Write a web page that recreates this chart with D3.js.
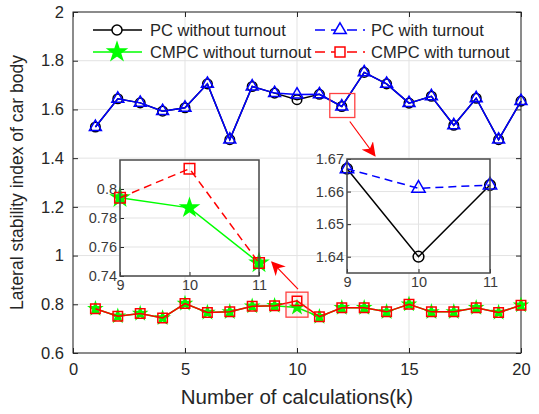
<!DOCTYPE html>
<html>
<head>
<meta charset="utf-8">
<script src="https://cdn.jsdelivr.net/npm/d3@7"></script>
<style>
  html, body { margin: 0; padding: 0; background: #fff; }
  svg { display: block; font-family: "Liberation Sans", Arial, sans-serif; }
</style>
</head>
<body>
<svg id="chart" width="539" height="414"></svg>
<script>
// Number of calculations
const steps = [1, 2, 3, 4, 5, 6, 7, 8, 9, 10, 11, 12, 13, 14, 15, 16, 17, 18, 19, 20];
// Lateral stability index per controller
const pcWithout   = [1.528, 1.644, 1.627, 1.593, 1.607, 1.705, 1.476, 1.694, 1.667, 1.640, 1.662, 1.612, 1.752, 1.705, 1.626, 1.654, 1.535, 1.646, 1.476, 1.634];
const pcWith      = [1.528, 1.644, 1.627, 1.593, 1.607, 1.705, 1.476, 1.694, 1.667, 1.661, 1.662, 1.612, 1.752, 1.705, 1.626, 1.654, 1.535, 1.646, 1.476, 1.634];
const cmpcWithout = [0.782, 0.751, 0.762, 0.744, 0.803, 0.766, 0.769, 0.792, 0.794, 0.787, 0.749, 0.786, 0.786, 0.769, 0.800, 0.769, 0.769, 0.786, 0.766, 0.796];
const cmpcWith    = [0.782, 0.751, 0.762, 0.744, 0.803, 0.766, 0.769, 0.792, 0.794, 0.814, 0.749, 0.786, 0.786, 0.769, 0.800, 0.769, 0.769, 0.786, 0.766, 0.796];

const xTicks = [0, 5, 10, 15, 20];
const yTicks = [0.6, 0.8, 1, 1.2, 1.4, 1.6, 1.8, 2];
const zoomSteps = [9, 10, 11];
const zoomLowTicks = [0.74, 0.76, 0.78, 0.8];
const zoomHighTicks = [1.64, 1.65, 1.66, 1.67];

const legendLabels = ["PC without turnout", "PC with turnout", "CMPC without turnout", "CMPC with turnout"];

const axisColor = "#262626";
const gridColor = "#e3e3e3";

const svg = d3.select("#chart");
const plot = { left: 73, right: 521, top: 12, bottom: 353 };

const x = d3.scaleLinear().domain([0, 20]).range([plot.left, plot.right]);
const y = d3.scaleLinear().domain([0.6, 2]).range([plot.bottom, plot.top]);

const series = [
  { name: legendLabels[0], values: pcWithout,   color: "#000000", symbol: d3.symbolCircle,   size: 72, fill: "none",    dash: null },
  { name: legendLabels[1], values: pcWith,      color: "#0000ff", symbol: d3.symbolTriangle, size: 62, fill: "none",    dash: "8,5" },
  { name: legendLabels[2], values: cmpcWithout, color: "#00ff00", symbol: d3.symbolStar,     size: 45, fill: "#00ff00", dash: null },
  { name: legendLabels[3], values: cmpcWith,    color: "#ff0000", symbol: d3.symbolSquare,   size: 90, fill: "none",    dash: "8,5" }
];

// ---------- main axes ----------
const g = svg.append("g");

// grid
g.append("g").selectAll("line").data(xTicks).join("line")
  .attr("x1", d => x(d)).attr("x2", d => x(d))
  .attr("y1", plot.top).attr("y2", plot.bottom)
  .attr("stroke", gridColor).attr("stroke-width", 1);
g.append("g").selectAll("line").data(yTicks).join("line")
  .attr("x1", plot.left).attr("x2", plot.right)
  .attr("y1", d => y(d)).attr("y2", d => y(d))
  .attr("stroke", gridColor).attr("stroke-width", 1);

function styleAxis(sel, fontSize) {
  sel.select(".domain").remove();
  sel.selectAll(".tick line").attr("stroke", axisColor);
  sel.selectAll(".tick text").attr("fill", axisColor).attr("font-size", fontSize);
}

// bottom / left axes with inward ticks
g.append("g").attr("transform", `translate(0,${plot.bottom})`)
  .call(d3.axisBottom(x).tickValues(xTicks).tickSize(-5).tickPadding(10).tickFormat(d3.format("d")))
  .call(s => styleAxis(s, 16.5));
g.append("g").attr("transform", `translate(${plot.left},0)`)
  .call(d3.axisLeft(y).tickValues(yTicks).tickSize(-5).tickPadding(9).tickFormat(d => d3.format("")(+d.toFixed(1))))
  .call(s => styleAxis(s, 16.5));
// mirrored ticks on top / right
g.append("g").attr("transform", `translate(0,${plot.top})`)
  .call(d3.axisTop(x).tickValues(xTicks).tickSize(-5).tickFormat(""))
  .call(s => styleAxis(s, 16));
g.append("g").attr("transform", `translate(${plot.right},0)`)
  .call(d3.axisRight(y).tickValues(yTicks).tickSize(-5).tickFormat(""))
  .call(s => styleAxis(s, 16));

g.append("rect")
  .attr("x", plot.left).attr("y", plot.top)
  .attr("width", plot.right - plot.left).attr("height", plot.bottom - plot.top)
  .attr("fill", "none").attr("stroke", axisColor).attr("stroke-width", 1);

// axis titles
svg.append("text")
  .attr("x", (plot.left + plot.right) / 2).attr("y", 404)
  .attr("text-anchor", "middle").attr("font-size", 20.5).attr("fill", axisColor)
  .text("Number of calculations(k)");
svg.append("text")
  .attr("transform", `translate(23,${(plot.top + plot.bottom) / 2}) rotate(-90)`)
  .attr("text-anchor", "middle").attr("font-size", 17.5).attr("fill", axisColor)
  .text("Lateral stability index of car body");

// ---------- series ----------
function drawSeries(parent, s, vals, xs, ys, xsData, dashed, markerScale) {
  const line = d3.line().x((d, i) => xs(xsData[i])).y(d => ys(d));
  parent.append("path")
    .attr("d", line(vals))
    .attr("fill", "none").attr("stroke", s.color).attr("stroke-width", 1.5)
    .attr("stroke-dasharray", dashed ? s.dash : null);
  const sym = d3.symbol().type(s.symbol).size(s.size * markerScale);
  parent.append("g").selectAll("path").data(vals).join("path")
    .attr("transform", (d, i) => `translate(${xs(xsData[i])},${ys(d)})`)
    .attr("d", sym)
    .attr("fill", s.fill).attr("stroke", s.color).attr("stroke-width", 1.5);
}

const mainG = svg.append("g");
series.forEach(s => drawSeries(mainG, s, s.values, x, y, steps, false, 1));

// ---------- highlight boxes and arrows ----------
const annotColor = "#ff4040";
svg.append("defs").append("marker")
  .attr("id", "arrowHead").attr("viewBox", "0 0 10 10")
  .attr("refX", 9).attr("refY", 5)
  .attr("markerWidth", 14).attr("markerHeight", 14)
  .attr("markerUnits", "userSpaceOnUse")
  .attr("orient", "auto")
  .append("path").attr("d", "M0,0 L10,5 L0,10 L3,5 Z").attr("fill", "#ff0000");

const hiTop = { cx: x(12), cy: y(pcWith[11]) };
const hiLow = { cx: x(10), cy: y((cmpcWith[9] + cmpcWithout[9]) / 2) };

svg.append("rect")
  .attr("x", hiTop.cx - 12).attr("y", hiTop.cy - 13).attr("width", 25).attr("height", 24)
  .attr("fill", "none").attr("stroke", annotColor).attr("stroke-width", 1.3);
svg.append("rect")
  .attr("x", hiLow.cx - 11).attr("y", hiLow.cy - 12).attr("width", 22).attr("height", 25)
  .attr("fill", "rgba(255,0,0,0.05)").attr("stroke", annotColor).attr("stroke-width", 1.3);

svg.append("line")
  .attr("x1", hiTop.cx + 8).attr("y1", hiTop.cy + 15)
  .attr("x2", hiTop.cx + 33).attr("y2", hiTop.cy + 49)
  .attr("stroke", "#ff0000").attr("stroke-width", 1.2)
  .attr("marker-end", "url(#arrowHead)");
svg.append("line")
  .attr("x1", hiLow.cx + 1).attr("y1", hiLow.cy - 15)
  .attr("x2", hiLow.cx - 25).attr("y2", hiLow.cy - 42)
  .attr("stroke", "#ff0000").attr("stroke-width", 1.2)
  .attr("marker-end", "url(#arrowHead)");

// ---------- zoomed insets ----------
function inset(box, yDomain, yTickVals, fmt, list) {
  const ig = svg.append("g");
  const xs = d3.scaleLinear().domain([9, 11]).range([box.left, box.right]);
  const ys = d3.scaleLinear().domain(yDomain).range([box.bottom, box.top]);
  ig.append("rect")
    .attr("x", box.left).attr("y", box.top)
    .attr("width", box.right - box.left).attr("height", box.bottom - box.top)
    .attr("fill", "#fff");
  ig.append("g").selectAll("line").data(zoomSteps).join("line")
    .attr("x1", d => xs(d)).attr("x2", d => xs(d))
    .attr("y1", box.top).attr("y2", box.bottom)
    .attr("stroke", gridColor);
  ig.append("g").selectAll("line").data(yTickVals).join("line")
    .attr("x1", box.left).attr("x2", box.right)
    .attr("y1", d => ys(d)).attr("y2", d => ys(d))
    .attr("stroke", gridColor);
  ig.append("g").attr("transform", `translate(0,${box.bottom})`)
    .call(d3.axisBottom(xs).tickValues(zoomSteps).tickSize(-4).tickPadding(4).tickFormat(d3.format("d")))
    .call(s => { styleAxis(s, 14.5); s.selectAll(".tick text").attr("fill", "#3a3a3a"); });
  ig.append("g").attr("transform", `translate(${box.left},0)`)
    .call(d3.axisLeft(ys).tickValues(yTickVals).tickSize(-4).tickPadding(3).tickFormat(fmt))
    .call(s => { styleAxis(s, 14.5); s.selectAll(".tick text").attr("fill", "#3a3a3a"); });
  list.forEach(s => drawSeries(ig, s, s.values.slice(8, 11), xs, ys, zoomSteps, true, s.symbol === d3.symbolStar ? 2 : 1.25));
  ig.append("rect")
    .attr("x", box.left).attr("y", box.top)
    .attr("width", box.right - box.left).attr("height", box.bottom - box.top)
    .attr("fill", "none").attr("stroke", "#4a4a4a").attr("stroke-width", 1.5);
}

inset({ left: 120, right: 259, top: 160, bottom: 276 }, [0.74, 0.82], zoomLowTicks,
      d => d3.format("")(+d.toFixed(2)), [series[2], series[3]]);
inset({ left: 347, right: 490, top: 159, bottom: 273 }, [1.635, 1.67], zoomHighTicks,
      d => d.toFixed(2), [series[0], series[1]]);

// ---------- legend (no frame) ----------
const legendPos = [
  { x0: 93, x1: 142, mx: 117, y: 30, tx: 150 },
  { x0: 315, x1: 365, mx: 340, y: 30, tx: 371 },
  { x0: 93, x1: 142, mx: 117, y: 52, tx: 150 },
  { x0: 315, x1: 365, mx: 340, y: 52, tx: 371 }
];
const lg = svg.append("g");
series.forEach((s, i) => {
  const p = legendPos[i];
  lg.append("line")
    .attr("x1", p.x0).attr("x2", p.x1).attr("y1", p.y).attr("y2", p.y)
    .attr("stroke", s.color).attr("stroke-width", 1.5)
    .attr("stroke-dasharray", s.dash ? "10,6" : null);
  lg.append("path")
    .attr("transform", `translate(${p.mx},${p.y})`)
    .attr("d", d3.symbol().type(s.symbol).size(s.symbol === d3.symbolStar ? 100 : s.size * 1.1))
    .attr("fill", s.fill === "none" ? "#fff" : s.fill)
    .attr("stroke", s.color).attr("stroke-width", 1.5);
  lg.append("text")
    .attr("x", p.tx).attr("y", p.y).attr("dy", "0.35em")
    .attr("font-size", 16.5).attr("fill", axisColor)
    .text(s.name);
});
</script>
</body>
</html>
